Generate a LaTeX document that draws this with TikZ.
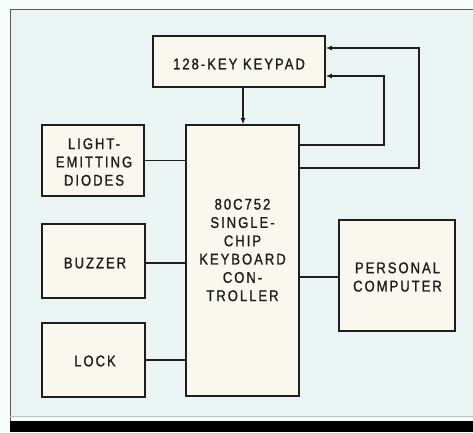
\documentclass[tikz,border=0pt]{standalone}
\usepackage{fontspec}
\setmainfont{Liberation Sans}[FakeStretch=0.84, LetterSpace=13, FakeBold=1.2]
\usetikzlibrary{arrows.meta}
\definecolor{bgc}{HTML}{EAF4F3}
\definecolor{boxc}{HTML}{F8F8EE}
\definecolor{linec}{HTML}{1E1E1E}
\begin{document}
\begin{tikzpicture}[x=1pt,y=-1pt,
  blk/.style={draw=linec, line width=1.6pt, fill=boxc, inner sep=0pt},
  lbl/.style={font=\fontsize{15.5}{18.3}\selectfont, align=center, text=linec, inner sep=0pt},
  conn/.style={draw=linec, line width=1.1pt},
  arr/.style={conn, -{Latex[length=6pt,width=5pt]}}]
\useasboundingbox (0,0) rectangle (473,432);
% background
\fill[white!60!bgc] (0,0) rectangle (473,432);
\fill[bgc] (10,9) rectangle (473,418);
\draw[gray!70!black, line width=0.8pt] (10,432) -- (10,9) -- (473,9);
\draw[gray!50, line width=1pt] (10,416) -- (473,416);
\fill[black] (10,421) rectangle (473,432);
% boxes
\node[blk, minimum width=172pt, minimum height=51pt] (kp) at (239,61.5) {};
\node[lbl] (kpt) at (239,64) {128-KEY KEYPAD};
\node[blk, minimum width=113pt, minimum height=271pt] (ctl) at (242.5,260.5) {};
\node[lbl] (ctlt) at (242.5,250) {80C752\\SINGLE-\\CHIP\\KEYBOARD\\CON-\\TROLLER};
\node[blk, minimum width=102pt, minimum height=71pt] (led) at (93,160.5) {};
\node[lbl] (ledt) at (94,162) {LIGHT-\\EMITTING\\DIODES};
\node[blk, minimum width=103pt, minimum height=74pt] (buz) at (93.5,261) {};
\node[lbl] (buzt) at (95,263) {BUZZER};
\node[blk, minimum width=103pt, minimum height=74pt] (lock) at (93.5,360) {};
\node[lbl] (lockt) at (95,361) {LOCK};
\node[blk, minimum width=116pt, minimum height=111pt] (pc) at (397,275.5) {};
\node[lbl] (pct) at (397.5,277) {PERSONAL\\COMPUTER};
% connectors
\draw[arr] (kp.south -| 243,0) -- (ctl.north -| 243,0);
\draw[conn] (led.east) -- (led.east -| ctl.west);
\draw[conn] (buz.east |- 0,263) -- (ctl.west |- 0,263);
\draw[conn] (lock.east) -- (lock.east -| ctl.west);
\draw[conn] (ctl.east |- 0,277) -- (pc.west |- 0,277);
\coordinate (c1) at (384,145);
\coordinate (c2) at (419,168);
\draw[arr] (ctl.east |- c1) -- (c1) -- (384,76) -- (kp.east |- 0,76);
\draw[arr] (ctl.east |- c2) -- (c2) -- (419,48) -- (kp.east |- 0,48);
\end{tikzpicture}
\end{document}
